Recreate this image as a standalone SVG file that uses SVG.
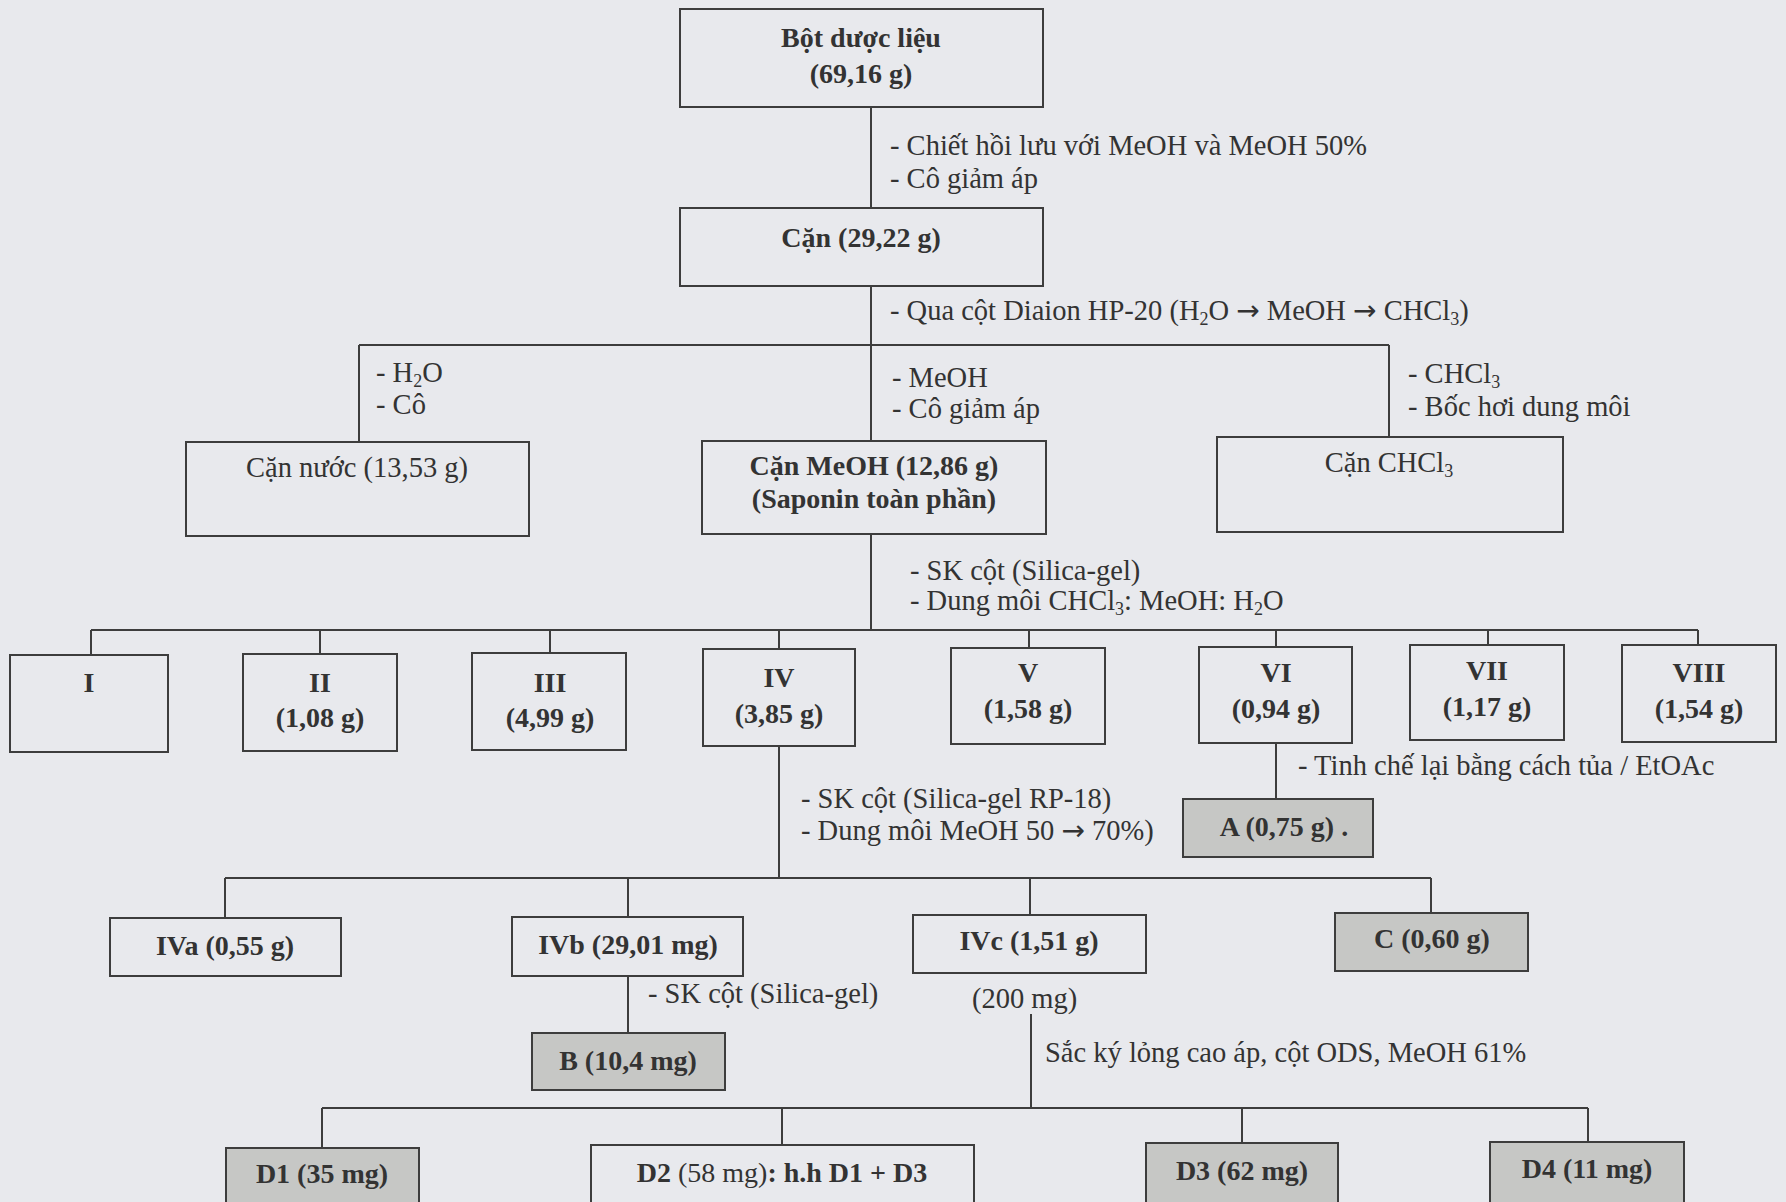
<svg xmlns="http://www.w3.org/2000/svg" width="1786" height="1202" viewBox="0 0 1786 1202">
<style>
text{font-family:"Liberation Serif","DejaVu Serif",serif;font-size:28.5px;fill:#333;}
.b{font-weight:bold;text-anchor:middle;font-size:28px;}
.c{text-anchor:middle;}
.n{font-weight:normal;}
.box{fill:none;stroke:#3d3d3d;stroke-width:2;}
.sh{fill:#c6c7c5;stroke:#3d3d3d;stroke-width:2;}
.ln{fill:none;stroke:#3d3d3d;stroke-width:2;}
.sub{font-size:18px;}
.ar{font-family:"DejaVu Sans",sans-serif;font-size:28px;}
</style>
<rect width="1786" height="1202" fill="#e8e9ed"/>
<g id="connectors">
<path class="ln" d="M871,107V208M871,286V345M359,345H1389M359,345V442M871,345V441M1389,345V437"/>
<path class="ln" d="M871,534V630M91,630H1698M91,630V655M320,630V654M550,630V653M779,630V649M1029,630V648M1276,630V647M1488,630V645M1698,630V645"/>
<path class="ln" d="M779,746V878M225,878H1431M225,878V918M628,878V917M1030,878V915M1431,878V913M1276,743V799M628,976V1033"/>
<path class="ln" d="M1031,1014V1108M322,1108H1588M322,1108V1148M782,1108V1145M1242,1108V1143M1588,1108V1142"/>
</g>
<g id="labels">
<text x="890" y="155">- Chiết hồi lưu với MeOH và MeOH 50%</text>
<text x="890" y="188">- Cô giảm áp</text>
<text x="890" y="320">- Qua cột Diaion HP-20 (H<tspan class="sub" dy="5">2</tspan><tspan dy="-5">O </tspan><tspan class="ar">→</tspan> MeOH <tspan class="ar">→</tspan> CHCl<tspan class="sub" dy="5">3</tspan><tspan dy="-5">)</tspan></text>
<text x="376" y="382">- H<tspan class="sub" dy="5">2</tspan><tspan dy="-5">O</tspan></text>
<text x="376" y="414">- Cô</text>
<text x="892" y="387">- MeOH</text>
<text x="892" y="418">- Cô giảm áp</text>
<text x="1408" y="383">- CHCl<tspan class="sub" dy="5">3</tspan></text>
<text x="1408" y="416">- Bốc hơi dung môi</text>
<text x="910" y="580">- SK cột (Silica-gel)</text>
<text x="910" y="610">- Dung môi CHCl<tspan class="sub" dy="5">3</tspan><tspan dy="-5">: MeOH: H</tspan><tspan class="sub" dy="5">2</tspan><tspan dy="-5">O</tspan></text>
<text x="801" y="808">- SK cột (Silica-gel RP-18)</text>
<text x="801" y="840">- Dung môi MeOH 50 <tspan class="ar">→</tspan> 70%)</text>
<text x="1298" y="775">- Tinh chế lại bằng cách tủa / EtOAc</text>
<text x="648" y="1003">- SK cột (Silica-gel)</text>
<text x="972" y="1008">(200 mg)</text>
<text x="1045" y="1062">Sắc ký lỏng cao áp, cột ODS, MeOH 61%</text>
</g>
<g id="n-bot"><rect class="box" x="680" y="9" width="363" height="98"/><text class="b" x="861" y="47">Bột dược liệu</text><text class="b" x="861" y="83">(69,16 g)</text></g>
<g id="n-can"><rect class="box" x="680" y="208" width="363" height="78"/><text class="b" x="861" y="247">Cặn (29,22 g)</text></g>
<g id="n-cannuoc"><rect class="box" x="186" y="442" width="343" height="94"/><text class="c" x="357" y="477">Cặn nước (13,53 g)</text></g>
<g id="n-canmeoh"><rect class="box" x="702" y="441" width="344" height="93"/><text class="b" x="874" y="475">Cặn MeOH (12,86 g)</text><text class="b" x="874" y="508">(Saponin toàn phần)</text></g>
<g id="n-canchcl3"><rect class="box" x="1217" y="437" width="346" height="95"/><text class="c" x="1389" y="472">Cặn CHCl<tspan class="sub" dy="5">3</tspan></text></g>
<g id="n-I"><rect class="box" x="10" y="655" width="158" height="97"/><text class="b" x="89" y="692">I</text></g>
<g id="n-II"><rect class="box" x="243" y="654" width="154" height="97"/><text class="b" x="320" y="692">II</text><text class="b" x="320" y="727">(1,08 g)</text></g>
<g id="n-III"><rect class="box" x="472" y="653" width="154" height="97"/><text class="b" x="550" y="692">III</text><text class="b" x="550" y="727">(4,99 g)</text></g>
<g id="n-IV"><rect class="box" x="703" y="649" width="152" height="97"/><text class="b" x="779" y="687">IV</text><text class="b" x="779" y="723">(3,85 g)</text></g>
<g id="n-V"><rect class="box" x="951" y="648" width="154" height="96"/><text class="b" x="1028" y="682">V</text><text class="b" x="1028" y="718">(1,58 g)</text></g>
<g id="n-VI"><rect class="box" x="1199" y="647" width="153" height="96"/><text class="b" x="1276" y="682">VI</text><text class="b" x="1276" y="718">(0,94 g)</text></g>
<g id="n-VII"><rect class="box" x="1410" y="645" width="154" height="95"/><text class="b" x="1487" y="680">VII</text><text class="b" x="1487" y="716">(1,17 g)</text></g>
<g id="n-VIII"><rect class="box" x="1622" y="645" width="154" height="97"/><text class="b" x="1699" y="682">VIII</text><text class="b" x="1699" y="718">(1,54 g)</text></g>
<g id="n-A"><rect class="sh" x="1183" y="799" width="190" height="58"/><text class="b" x="1284" y="836">A (0,75 g) .</text></g>
<g id="n-IVa"><rect class="box" x="110" y="918" width="231" height="58"/><text class="b" x="225" y="955">IVa (0,55 g)</text></g>
<g id="n-IVb"><rect class="box" x="512" y="917" width="231" height="59"/><text class="b" x="628" y="954">IVb (29,01 mg)</text></g>
<g id="n-IVc"><rect class="box" x="913" y="915" width="233" height="58"/><text class="b" x="1029" y="950">IVc (1,51 g)</text></g>
<g id="n-C"><rect class="sh" x="1335" y="913" width="193" height="58"/><text class="b" x="1432" y="948">C (0,60 g)</text></g>
<g id="n-B"><rect class="sh" x="532" y="1033" width="193" height="57"/><text class="b" x="628" y="1070">B (10,4 mg)</text></g>
<g id="n-D1"><rect class="sh" x="226" y="1148" width="193" height="70"/><text class="b" x="322" y="1183">D1 (35 mg)</text></g>
<g id="n-D2"><rect class="box" x="591" y="1145" width="383" height="70"/><text class="b" x="782" y="1182">D2 <tspan class="n">(58 mg)</tspan>: h.h D1 + D3</text></g>
<g id="n-D3"><rect class="sh" x="1146" y="1143" width="192" height="72"/><text class="b" x="1242" y="1180">D3 (62 mg)</text></g>
<g id="n-D4"><rect class="sh" x="1490" y="1142" width="194" height="73"/><text class="b" x="1587" y="1178">D4 (11 mg)</text></g>
</svg>
